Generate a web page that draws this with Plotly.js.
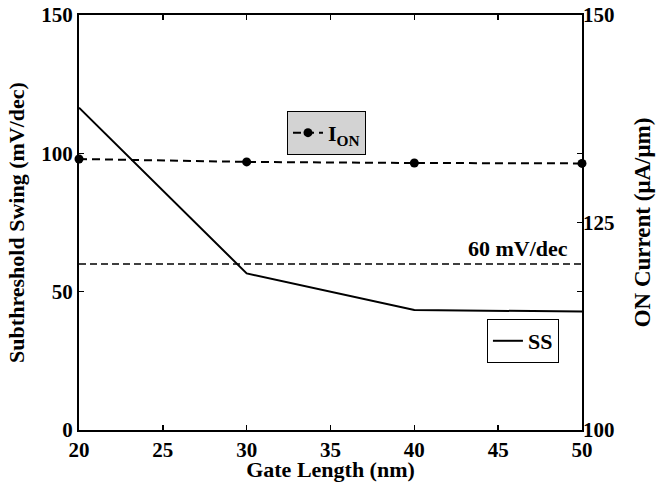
<!DOCTYPE html>
<html>
<head>
<meta charset="utf-8">
<script src="https://cdn.plot.ly/plotly-3.0.1.min.js"></script>
<style>html,body{margin:0;padding:0;background:#fff;}#chart{width:657px;height:482px;}</style>
</head>
<body>
<div id="chart"></div>
<script>
// ---- data ----
const gateLength = [20, 30, 40, 50];
const ssValues = [116.5, 56.6, 43.4, 42.8];          // mV/dec (left axis)
const ionValues = [132.65, 132.3, 132.17, 132.12];   // uA/um (right axis)
const refLineX = [20, 50];
const refLineY = [60, 60];
const xTicks = [20, 25, 30, 35, 40, 45, 50];
const yTicks = [0, 50, 100, 150];
const y2Ticks = [100, 125, 150];
const refLabel = '60 mV/dec';

const FONT = 'Liberation Serif';
const bold = v => '<b>' + v + '</b>';
const tf = (size) => ({family: FONT, size: size, color: '#000', weight: 700});

const traces = [
  {
    x: refLineX, y: refLineY, mode: 'lines', showlegend: false, hoverinfo: 'skip',
    line: {color: '#000', width: 1.5, dash: '7px,4px'}, xaxis: 'x', yaxis: 'y'
  },
  {
    x: gateLength, y: ssValues, mode: 'lines', name: bold('SS'),
    line: {color: '#000', width: 2}, xaxis: 'x', yaxis: 'y', legend: 'legend2'
  },
  {
    x: gateLength, y: ionValues, mode: 'lines+markers', name: bold('I<sub>ON</sub>'),
    line: {color: '#000', width: 2, dash: '8px,5px'},
    marker: {color: '#000', size: 9, symbol: 'circle'},
    xaxis: 'x', yaxis: 'y2', legend: 'legend', cliponaxis: false
  }
];

const layout = {
  width: 657, height: 482,
  margin: {l: 79, r: 75, t: 15, b: 52},
  paper_bgcolor: '#fff', plot_bgcolor: '#fff',
  font: tf(21),
  showlegend: true,
  xaxis: {
    range: [20, 50], tickvals: xTicks, ticktext: xTicks.map(bold),
    ticks: 'inside', ticklen: 5, tickwidth: 1.5,
    tickcolor: '#000', showline: true, linewidth: 2, linecolor: '#000', mirror: 'ticks',
    showgrid: false, zeroline: false,
    tickfont: tf(21),
    title: {text: bold('Gate Length (nm)'), font: tf(22)}
  },
  yaxis: {
    range: [0, 150], tickvals: yTicks, ticktext: yTicks.map(bold),
    ticks: 'inside', ticklen: 5, tickwidth: 1.5,
    tickcolor: '#000', showline: true, linewidth: 2, linecolor: '#000', mirror: 'ticks',
    showgrid: false, zeroline: false,
    tickfont: tf(21),
    title: {text: bold('Subthreshold Swing (mV/dec)'), font: tf(22)}
  },
  yaxis2: {
    range: [100, 150], tickvals: y2Ticks, ticktext: y2Ticks.map(bold),
    ticks: 'inside', ticklen: 5, tickwidth: 1.5,
    tickcolor: '#000', overlaying: 'y', side: 'right', showline: false,
    showgrid: false, zeroline: false,
    tickfont: tf(21),
    title: {text: bold('ON Current (μA/μm)'), font: tf(23)}
  },
  legend: {
    x: 0.4135, y: 0.769, xanchor: 'left', yanchor: 'top',
    bgcolor: '#d3d3d3', bordercolor: '#000', borderwidth: 1,
    font: tf(22), itemwidth: 30
  },
  legend2: {
    x: 0.811, y: 0.2675, xanchor: 'left', yanchor: 'top',
    bgcolor: '#fff', bordercolor: '#000', borderwidth: 1,
    font: tf(22), itemwidth: 30
  },
  annotations: [{
    text: bold(refLabel), xref: 'paper', yref: 'y', x: 1, y: refLineY[0],
    xanchor: 'right', yanchor: 'bottom', xshift: -12, yshift: 1, showarrow: false,
    font: tf(22)
  }]
};

Plotly.newPlot('chart', traces, layout, {displayModeBar: false, staticPlot: true});
</script>
</body>
</html>
